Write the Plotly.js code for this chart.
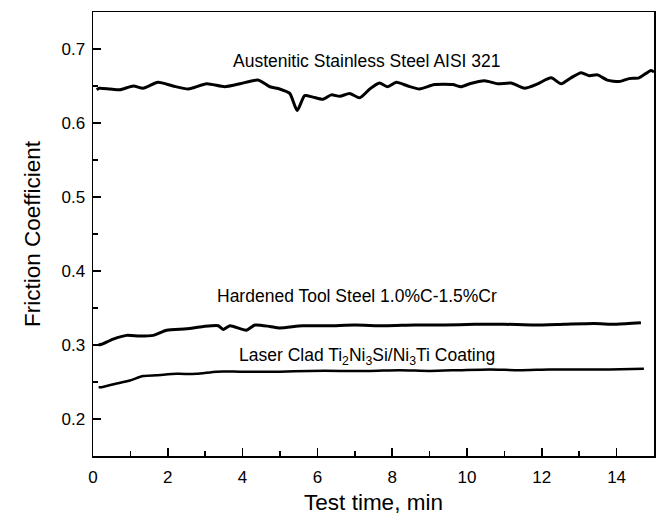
<!DOCTYPE html>
<html>
<head>
<meta charset="utf-8">
<script src="https://cdn.plot.ly/plotly-3.0.1.min.js"></script>
<style>body{margin:0;background:#fff}#plot{width:660px;height:522px}</style>
</head>
<body>
<div id="plot"></div>
<script>
const austX = [0.1,0.17,0.45,0.72,1.08,1.34,1.74,2.14,2.55,3.04,3.52,3.93,4.41,4.73,4.99,5.26,5.46,5.66,5.88,6.15,6.37,6.60,6.86,7.13,7.40,7.66,7.88,8.11,8.42,8.73,9.13,9.62,9.84,10.07,10.47,10.82,11.18,11.54,11.89,12.25,12.52,12.78,13.05,13.27,13.49,13.75,14.07,14.33,14.60,14.92,15.0];
const austY = [0.645,0.647,0.646,0.645,0.650,0.647,0.655,0.650,0.646,0.653,0.649,0.653,0.658,0.649,0.646,0.640,0.617,0.637,0.635,0.632,0.638,0.636,0.640,0.634,0.646,0.654,0.649,0.655,0.650,0.646,0.652,0.652,0.649,0.653,0.657,0.653,0.654,0.647,0.653,0.661,0.653,0.661,0.668,0.664,0.665,0.658,0.656,0.660,0.661,0.671,0.669];

const hardX = [0.15,0.23,0.54,0.90,1.25,1.61,1.97,2.50,2.95,3.35,3.48,3.66,4.10,4.33,4.73,4.99,5.6,6.3,7.0,7.8,8.6,9.4,10.2,11.0,11.8,12.6,13.4,14.0,14.65];
const hardY = [0.300,0.301,0.308,0.313,0.312,0.313,0.320,0.322,0.325,0.326,0.321,0.326,0.320,0.327,0.325,0.323,0.326,0.326,0.327,0.326,0.327,0.327,0.328,0.328,0.327,0.328,0.329,0.328,0.330];

const laserX = [0.15,0.23,0.63,0.99,1.34,1.70,2.23,2.77,3.30,3.93,4.99,5.8,6.6,7.4,8.2,9.0,9.8,10.6,11.4,12.2,13.0,13.8,14.73];
const laserY = [0.243,0.243,0.248,0.252,0.258,0.259,0.261,0.261,0.264,0.264,0.264,0.265,0.265,0.265,0.266,0.265,0.266,0.267,0.266,0.267,0.267,0.267,0.268];

const labels = ["Austenitic Stainless Steel AISI 321","Hardened Tool Steel 1.0%C-1.5%Cr","Laser Clad Ti<sub>2</sub>Ni<sub>3</sub>Si/Ni<sub>3</sub>Ti Coating"];
const labelX = [7.32,7.06,7.32];
const labelY = [0.684,0.366,0.285];

const FONT = "Liberation Sans, Arial, Helvetica, sans-serif";
const traces = [
  {x: austX, y: austY, mode: "lines", line: {color: "#000", width: 3, shape: "spline", smoothing: 0.6}},
  {x: hardX, y: hardY, mode: "lines", line: {color: "#000", width: 3, shape: "spline", smoothing: 0.6}},
  {x: laserX, y: laserY, mode: "lines", line: {color: "#000", width: 2.5, shape: "spline", smoothing: 0.6}}
];
const annotations = labels.map((t, i) => ({
  x: labelX[i], y: labelY[i], xref: "x", yref: "y", text: t, showarrow: false,
  font: {family: FONT, size: 17.5, color: "#000"}
}));
const axisCommon = {
  showline: true, linecolor: "#000", linewidth: 1.5, mirror: true,
  ticks: "inside", ticklen: 8, tickwidth: 1.5, tickcolor: "#000",
  showgrid: false, zeroline: false,
  tickfont: {family: FONT, size: 17, color: "#000"}
};
const layout = {
  width: 660, height: 522,
  margin: {l: 93, r: 6, t: 12, b: 66},
  paper_bgcolor: "#fff", plot_bgcolor: "#fff",
  showlegend: false,
  font: {family: FONT, color: "#000"},
  xaxis: Object.assign({}, axisCommon, {
    range: [0, 15], tick0: 0, dtick: 2, ticklabelstandoff: 5,
    minor: {dtick: 1, ticks: "inside", ticklen: 5, tickwidth: 1.5, tickcolor: "#000"},
    title: {text: "Test time, min", font: {family: FONT, size: 22.5, color: "#000"}, standoff: 8}
  }),
  yaxis: Object.assign({}, axisCommon, {
    range: [0.15, 0.75], tick0: 0.2, dtick: 0.1, tickformat: ".1f", ticklabelstandoff: 3,
    minor: {dtick: 0.05, tick0: 0.15, ticks: "inside", ticklen: 5, tickwidth: 1.5, tickcolor: "#000"},
    title: {text: "Friction Coefficient", font: {family: FONT, size: 22.5, color: "#000"}, standoff: 14}
  }),
  annotations: annotations
};
Plotly.newPlot("plot", traces, layout, {staticPlot: true, displayModeBar: false});
</script>
</body>
</html>
